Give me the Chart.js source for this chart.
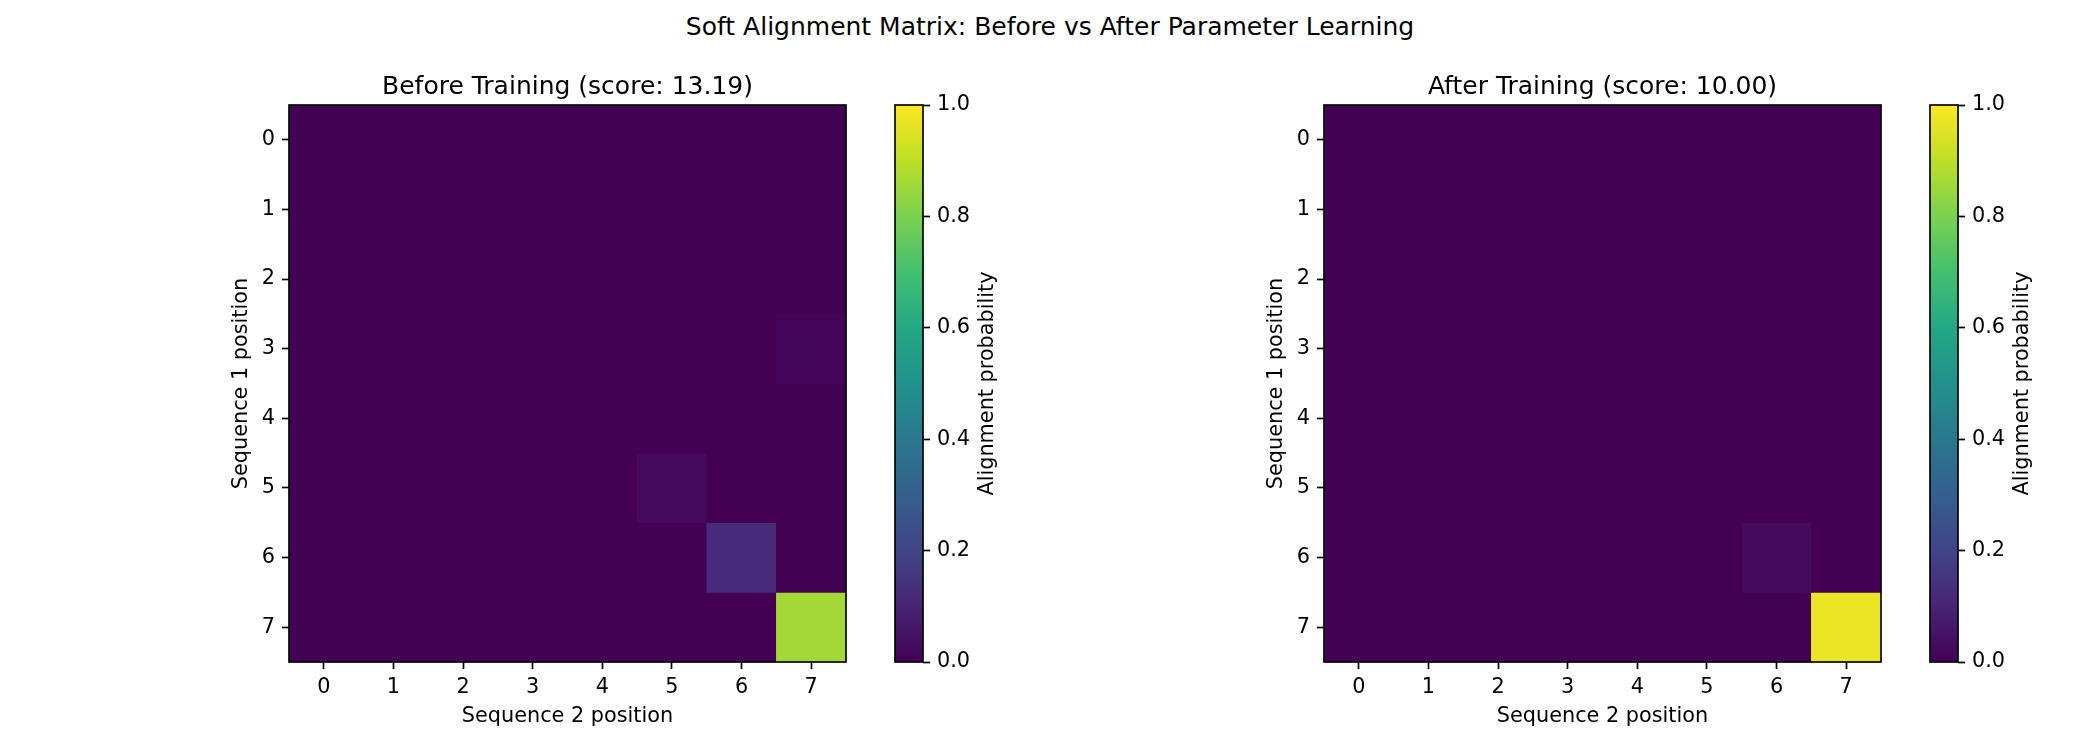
<!DOCTYPE html>
<html>
<head>
<meta charset="utf-8">
<script src="https://cdn.jsdelivr.net/npm/chart.js@4.4.1/dist/chart.umd.min.js"></script>
<style>
  html, body { margin: 0; padding: 0; background: #ffffff; }
  #wrap { position: relative; width: 2100px; height: 750px; background: #ffffff; overflow: hidden; }
  canvas { position: absolute; }
  #suptitle { position: absolute; left: 0; top: 12px; width: 2100px; text-align: center;
    font-family: "DejaVu Sans", sans-serif; font-size: 25px; line-height: 30px; color: #000; }
</style>
</head>
<body>
<div id="wrap">
  <div id="suptitle">Soft Alignment Matrix: Before vs After Parameter Learning</div>
  <canvas id="hmBefore" width="660" height="690" style="left:201px;top:60px;"></canvas>
  <canvas id="cbBefore" width="200" height="690" style="left:871px;top:60px;"></canvas>
  <canvas id="hmAfter" width="660" height="690" style="left:1236px;top:60px;"></canvas>
  <canvas id="cbAfter" width="200" height="690" style="left:1906px;top:60px;"></canvas>
</div>
<script>
// ---- data ----
const seq2Labels = ['0', '1', '2', '3', '4', '5', '6', '7'];
const seq1Ticks = [0, 1, 2, 3, 4, 5, 6, 7];
const colorbarTicks = [0, 0.2, 0.4, 0.6, 0.8, 1.0];

const beforeTitle = 'Before Training (score: 13.19)';
const afterTitle = 'After Training (score: 10.00)';

const beforeMatrix = [
  [0, 0, 0, 0, 0, 0, 0, 0],
  [0, 0, 0, 0, 0, 0, 0, 0],
  [0, 0, 0, 0, 0, 0, 0, 0],
  [0, 0, 0, 0, 0, 0, 0, 0.008],
  [0, 0, 0, 0, 0, 0, 0, 0],
  [0, 0, 0, 0, 0, 0.025, 0, 0],
  [0, 0, 0, 0, 0, 0, 0.12, 0],
  [0, 0, 0, 0, 0, 0, 0, 0.86]
];
const afterMatrix = [
  [0, 0, 0, 0, 0, 0, 0, 0],
  [0, 0, 0, 0, 0, 0, 0, 0],
  [0, 0, 0, 0, 0, 0, 0, 0],
  [0, 0, 0, 0, 0, 0, 0, 0],
  [0, 0, 0, 0, 0, 0, 0, 0],
  [0, 0, 0, 0, 0, 0, 0, 0],
  [0, 0, 0, 0, 0, 0, 0.03, 0],
  [0, 0, 0, 0, 0, 0, 0, 0.97]
];

// viridis colormap anchors (0 .. 1)
const viridisStops = ['#440154', '#482475', '#414487', '#355f8d', '#2a788e', '#21918c',
                      '#22a884', '#44bf70', '#7ad151', '#bddf26', '#fde725'];

function hexToRgb(h) {
  return [parseInt(h.slice(1, 3), 16), parseInt(h.slice(3, 5), 16), parseInt(h.slice(5, 7), 16)];
}
function viridis(v) {
  v = Math.max(0, Math.min(1, v));
  const n = viridisStops.length - 1;
  const p = v * n;
  const i = Math.min(Math.floor(p), n - 1);
  const t = p - i;
  const a = hexToRgb(viridisStops[i]), b = hexToRgb(viridisStops[i + 1]);
  const c = a.map((x, k) => Math.round(x + (b[k] - x) * t));
  return 'rgb(' + c.join(',') + ')';
}

const FONT = 'DejaVu Sans';
const FS = 20.8;

Chart.defaults.font.family = FONT;
Chart.defaults.color = '#000';

const frameAndBg = {
  id: 'frameAndBg',
  beforeDatasetsDraw(chart, args, opts) {
    if (!opts.bg) return;
    const a = chart.chartArea, c = chart.ctx;
    c.save();
    c.fillStyle = opts.bg;
    c.fillRect(a.left, a.top, a.right - a.left, a.bottom - a.top);
    c.restore();
  },
  afterDatasetsDraw(chart) {
    const a = chart.chartArea, c = chart.ctx;
    c.save();
    c.strokeStyle = '#000';
    c.lineWidth = 1.67;
    c.strokeRect(a.left, a.top, a.right - a.left, a.bottom - a.top);
    c.restore();
  }
};

const cbLabel = {
  id: 'cbLabel',
  afterDraw(chart, args, opts) {
    if (!opts.text) return;
    const a = chart.chartArea, c = chart.ctx;
    c.save();
    c.translate(opts.x, (a.top + a.bottom) / 2);
    c.rotate(-Math.PI / 2);
    c.font = FS + 'px "' + FONT + '"';
    c.fillStyle = '#000';
    c.textAlign = 'center';
    c.textBaseline = 'middle';
    c.fillText(opts.text, 0, 0);
    c.restore();
  }
};

function makeHeatmap(id, matrix, title) {
  const datasets = matrix.map((row, r) => ({
    label: 'row ' + r,
    data: row.map(() => [r - 0.5, r + 0.5]),
    backgroundColor: row.map(v => viridis(v)),
    borderWidth: 0,
    grouped: false,
    barPercentage: 1,
    categoryPercentage: 1
  }));
  return new Chart(document.getElementById(id), {
    type: 'bar',
    data: { labels: seq2Labels, datasets },
    plugins: [frameAndBg],
    options: {
      responsive: false,
      animation: false,
      devicePixelRatio: 1,
      layout: { padding: { left: 0, right: 15, top: 0, bottom: 0 } },
      plugins: {
        legend: { display: false },
        tooltip: { enabled: false },
        frameAndBg: { bg: viridis(0) },
        title: {
          display: true, text: title, fullSize: false,
          font: { family: FONT, size: 25, weight: 'normal' }, color: '#000',
          padding: { top: 12, bottom: 3 }
        }
      },
      scales: {
        x: {
          type: 'category',
          offset: true,
          grid: { display: true, offset: false, drawOnChartArea: false, drawTicks: true,
                  tickLength: 7, tickWidth: 1.67, tickColor: '#000' },
          border: { display: false },
          ticks: { font: { family: FONT, size: FS }, color: '#000', padding: 6, maxRotation: 0 },
          title: { display: true, text: 'Sequence 2 position', font: { family: FONT, size: FS },
                   color: '#000', padding: { top: 0, bottom: 21 } },
          afterFit(s) { s.height = 88; }
        },
        y: {
          type: 'linear',
          min: -0.5, max: 7.5, reverse: true,
          afterBuildTicks(axis) { axis.ticks = seq1Ticks.map(v => ({ value: v })); },
          grid: { display: true, drawOnChartArea: false, drawTicks: true,
                  tickLength: 7, tickWidth: 1.67, tickColor: '#000' },
          border: { display: false },
          ticks: { font: { family: FONT, size: FS }, color: '#000', padding: 7,
                   callback: v => String(v) },
          title: { display: true, text: 'Sequence 1 position', font: { family: FONT, size: FS },
                   color: '#000', padding: { top: 28.5, bottom: 0 } },
          afterFit(s) { s.width = 88; }
        }
      }
    }
  });
}

function makeColorbar(id) {
  return new Chart(document.getElementById(id), {
    type: 'bar',
    data: {
      labels: [''],
      datasets: [{
        data: [[0, 1]],
        borderWidth: 0,
        barPercentage: 1,
        categoryPercentage: 1,
        backgroundColor(ctx) {
          const chart = ctx.chart;
          if (!chart.chartArea) return viridis(0);
          const ys = chart.scales.y;
          const g = chart.ctx.createLinearGradient(0, ys.getPixelForValue(0), 0, ys.getPixelForValue(1));
          viridisStops.forEach((c, i) => g.addColorStop(i / (viridisStops.length - 1), c));
          return g;
        }
      }]
    },
    plugins: [frameAndBg, cbLabel],
    options: {
      responsive: false,
      animation: false,
      devicePixelRatio: 1,
      layout: { padding: { left: 24, right: 0, top: 45, bottom: 88 } },
      plugins: {
        legend: { display: false },
        tooltip: { enabled: false },
        frameAndBg: { bg: null },
        cbLabel: { text: 'Alignment probability', x: 117 }
      },
      scales: {
        x: { type: 'category', display: false, offset: true },
        y: {
          type: 'linear', position: 'right', min: 0, max: 1,
          afterBuildTicks(axis) { axis.ticks = colorbarTicks.map(v => ({ value: v })); },
          grid: { display: true, drawOnChartArea: false, drawTicks: true,
                  tickLength: 7, tickWidth: 1.67, tickColor: '#000' },
          border: { display: false },
          ticks: { font: { family: FONT, size: FS }, color: '#000', padding: 7,
                   callback: v => Number(v).toFixed(1) },
          afterFit(s) { s.width = 148; }
        }
      }
    }
  });
}

makeHeatmap('hmBefore', beforeMatrix, beforeTitle);
makeColorbar('cbBefore');
makeHeatmap('hmAfter', afterMatrix, afterTitle);
makeColorbar('cbAfter');
</script>
</body>
</html>
